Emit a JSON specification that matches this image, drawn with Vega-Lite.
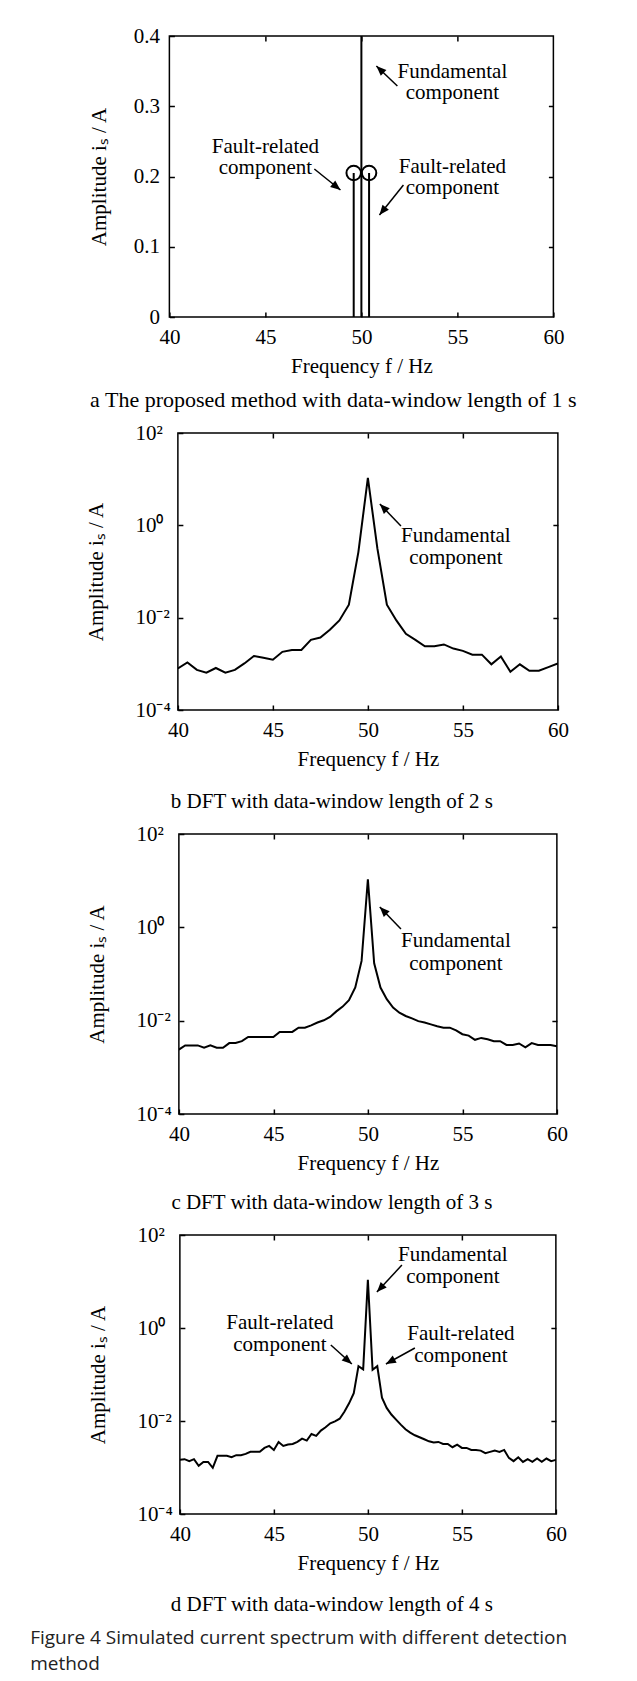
{
  "$schema": "https://vega.github.io/schema/vega-lite/v6.json",
  "background": "white",
  "padding": {"left": 30, "top": 24, "right": 5, "bottom": 6},
  "spacing": 9,
  "center": true,
  "datasets": {
    "stemsA": [
      {"f": 49.6, "amp": 0.205},
      {"f": 50.0, "amp": 10.7},
      {"f": 50.4, "amp": 0.205}
    ],
    "textA": [
      {"x": 54.74, "y": 0.349, "text": "Fundamental"},
      {"x": 54.74, "y": 0.319, "text": "component"},
      {"x": 45.0, "y": 0.242, "text": "Fault-related"},
      {"x": 45.0, "y": 0.212, "text": "component"},
      {"x": 54.74, "y": 0.2135, "text": "Fault-related"},
      {"x": 54.74, "y": 0.1836, "text": "component"}
    ],
    "arrowA": [
      {"x": 51.875, "y": 0.3288, "x2": 50.78, "y2": 0.3573, "angle": 313.6},
      {"x": 47.55, "y": 0.2107, "x2": 48.91, "y2": 0.1808, "angle": 128.9},
      {"x": 52.19, "y": 0.1879, "x2": 50.94, "y2": 0.1452, "angle": 218.7}
    ],
    "lineB": [
      {"f": 40.0, "amp": 0.000794}, {"f": 40.5, "amp": 0.00107}, {"f": 41.0, "amp": 0.000741},
      {"f": 41.5, "amp": 0.000646}, {"f": 42.0, "amp": 0.000813}, {"f": 42.5, "amp": 0.000646},
      {"f": 43.0, "amp": 0.000741}, {"f": 43.5, "amp": 0.00102}, {"f": 44.0, "amp": 0.00148},
      {"f": 44.5, "amp": 0.00135}, {"f": 45.0, "amp": 0.00123}, {"f": 45.5, "amp": 0.00182},
      {"f": 46.0, "amp": 0.0020}, {"f": 46.5, "amp": 0.0020}, {"f": 47.0, "amp": 0.00331},
      {"f": 47.5, "amp": 0.00372}, {"f": 48.0, "amp": 0.0055}, {"f": 48.5, "amp": 0.00871},
      {"f": 49.0, "amp": 0.0191}, {"f": 49.5, "amp": 0.263}, {"f": 50.0, "amp": 10.7},
      {"f": 50.5, "amp": 0.316}, {"f": 51.0, "amp": 0.0191}, {"f": 51.5, "amp": 0.00871},
      {"f": 52.0, "amp": 0.00447}, {"f": 52.5, "amp": 0.00331}, {"f": 53.0, "amp": 0.0024},
      {"f": 53.5, "amp": 0.0024}, {"f": 54.0, "amp": 0.00263}, {"f": 54.5, "amp": 0.00214},
      {"f": 55.0, "amp": 0.00191}, {"f": 55.5, "amp": 0.00158}, {"f": 56.0, "amp": 0.00158},
      {"f": 56.5, "amp": 0.000977}, {"f": 57.0, "amp": 0.00145}, {"f": 57.5, "amp": 0.000676},
      {"f": 58.0, "amp": 0.000977}, {"f": 58.5, "amp": 0.000708}, {"f": 59.0, "amp": 0.000708},
      {"f": 59.5, "amp": 0.000851}, {"f": 60.0, "amp": 0.00102}
    ],
    "textB": [
      {"x": 54.63, "y": 0.589, "text": "Fundamental"},
      {"x": 54.63, "y": 0.196, "text": "component"}
    ],
    "arrowB": [
      {"x": 51.74, "y": 0.968, "x2": 50.63, "y2": 2.9, "angle": 316}
    ],
    "lineC": [
      {"f": 40.0, "amp": 0.0024}, {"f": 40.333, "amp": 0.00295}, {"f": 40.667, "amp": 0.00295},
      {"f": 41.0, "amp": 0.00295}, {"f": 41.333, "amp": 0.00263}, {"f": 41.667, "amp": 0.00295},
      {"f": 42.0, "amp": 0.00263}, {"f": 42.333, "amp": 0.00263}, {"f": 42.667, "amp": 0.00331},
      {"f": 43.0, "amp": 0.00331}, {"f": 43.333, "amp": 0.00363}, {"f": 43.667, "amp": 0.00447},
      {"f": 44.0, "amp": 0.00447}, {"f": 44.333, "amp": 0.00447}, {"f": 44.667, "amp": 0.00447},
      {"f": 45.0, "amp": 0.00447}, {"f": 45.333, "amp": 0.00575}, {"f": 45.667, "amp": 0.00575},
      {"f": 46.0, "amp": 0.00575}, {"f": 46.333, "amp": 0.00708}, {"f": 46.667, "amp": 0.00708},
      {"f": 47.0, "amp": 0.00794}, {"f": 47.333, "amp": 0.00912}, {"f": 47.667, "amp": 0.0102},
      {"f": 48.0, "amp": 0.012}, {"f": 48.333, "amp": 0.0158}, {"f": 48.667, "amp": 0.02},
      {"f": 49.0, "amp": 0.0275}, {"f": 49.333, "amp": 0.0513}, {"f": 49.667, "amp": 0.191},
      {"f": 50.0, "amp": 10.7}, {"f": 50.333, "amp": 0.17}, {"f": 50.667, "amp": 0.0513},
      {"f": 51.0, "amp": 0.0288}, {"f": 51.333, "amp": 0.0191}, {"f": 51.667, "amp": 0.0148},
      {"f": 52.0, "amp": 0.0126}, {"f": 52.333, "amp": 0.0112}, {"f": 52.667, "amp": 0.00977},
      {"f": 53.0, "amp": 0.00912}, {"f": 53.333, "amp": 0.00832}, {"f": 53.667, "amp": 0.00759},
      {"f": 54.0, "amp": 0.00708}, {"f": 54.333, "amp": 0.00708}, {"f": 54.667, "amp": 0.00617},
      {"f": 55.0, "amp": 0.00513}, {"f": 55.333, "amp": 0.00479}, {"f": 55.667, "amp": 0.00389},
      {"f": 56.0, "amp": 0.00427}, {"f": 56.333, "amp": 0.00398}, {"f": 56.667, "amp": 0.00363},
      {"f": 57.0, "amp": 0.00363}, {"f": 57.333, "amp": 0.00302}, {"f": 57.667, "amp": 0.00302},
      {"f": 58.0, "amp": 0.00324}, {"f": 58.333, "amp": 0.00269}, {"f": 58.667, "amp": 0.00331},
      {"f": 59.0, "amp": 0.00302}, {"f": 59.333, "amp": 0.00302}, {"f": 59.667, "amp": 0.00302},
      {"f": 60.0, "amp": 0.00282}
    ],
    "textC": [
      {"x": 54.66, "y": 0.509, "text": "Fundamental"},
      {"x": 54.66, "y": 0.164, "text": "component"}
    ],
    "arrowC": [
      {"x": 51.75, "y": 0.921, "x2": 50.63, "y2": 2.73, "angle": 316}
    ],
    "lineD": [
      {"f": 40.0, "amp": 0.00146}, {"f": 40.25, "amp": 0.00151}, {"f": 40.5, "amp": 0.00137},
      {"f": 40.75, "amp": 0.00151}, {"f": 41.0, "amp": 0.00109}, {"f": 41.25, "amp": 0.00132},
      {"f": 41.5, "amp": 0.00132}, {"f": 41.75, "amp": 0.000984}, {"f": 42.0, "amp": 0.00178},
      {"f": 42.25, "amp": 0.00178}, {"f": 42.5, "amp": 0.00178}, {"f": 42.75, "amp": 0.00166},
      {"f": 43.0, "amp": 0.00184}, {"f": 43.25, "amp": 0.00184}, {"f": 43.5, "amp": 0.00196},
      {"f": 43.75, "amp": 0.00217}, {"f": 44.0, "amp": 0.00217}, {"f": 44.25, "amp": 0.00217},
      {"f": 44.5, "amp": 0.00264}, {"f": 44.75, "amp": 0.00291}, {"f": 45.0, "amp": 0.00239},
      {"f": 45.25, "amp": 0.00355}, {"f": 45.5, "amp": 0.00291}, {"f": 45.75, "amp": 0.00311},
      {"f": 46.0, "amp": 0.00321}, {"f": 46.25, "amp": 0.00355}, {"f": 46.5, "amp": 0.00418},
      {"f": 46.75, "amp": 0.00379}, {"f": 47.0, "amp": 0.00526}, {"f": 47.25, "amp": 0.00478},
      {"f": 47.5, "amp": 0.00621}, {"f": 47.75, "amp": 0.00731}, {"f": 48.0, "amp": 0.00891},
      {"f": 48.25, "amp": 0.00984}, {"f": 48.5, "amp": 0.0112}, {"f": 48.75, "amp": 0.0158},
      {"f": 49.0, "amp": 0.024}, {"f": 49.25, "amp": 0.0398}, {"f": 49.5, "amp": 0.151},
      {"f": 49.75, "amp": 0.129}, {"f": 50.0, "amp": 10.9}, {"f": 50.25, "amp": 0.126},
      {"f": 50.5, "amp": 0.151}, {"f": 50.75, "amp": 0.0316}, {"f": 51.0, "amp": 0.0191},
      {"f": 51.25, "amp": 0.0138}, {"f": 51.5, "amp": 0.0107}, {"f": 51.75, "amp": 0.00834},
      {"f": 52.0, "amp": 0.00662}, {"f": 52.25, "amp": 0.00562}, {"f": 52.5, "amp": 0.00493},
      {"f": 52.75, "amp": 0.00447}, {"f": 53.0, "amp": 0.00405}, {"f": 53.25, "amp": 0.00366},
      {"f": 53.5, "amp": 0.00344}, {"f": 53.75, "amp": 0.00355}, {"f": 54.0, "amp": 0.00321},
      {"f": 54.25, "amp": 0.00321}, {"f": 54.5, "amp": 0.00273}, {"f": 54.75, "amp": 0.00311},
      {"f": 55.0, "amp": 0.00264}, {"f": 55.25, "amp": 0.00264}, {"f": 55.5, "amp": 0.00239},
      {"f": 55.75, "amp": 0.00239}, {"f": 56.0, "amp": 0.00231}, {"f": 56.25, "amp": 0.00203},
      {"f": 56.5, "amp": 0.00217}, {"f": 56.75, "amp": 0.00231}, {"f": 57.0, "amp": 0.00217},
      {"f": 57.25, "amp": 0.00239}, {"f": 57.5, "amp": 0.00161}, {"f": 57.75, "amp": 0.00137},
      {"f": 58.0, "amp": 0.00166}, {"f": 58.25, "amp": 0.00132}, {"f": 58.5, "amp": 0.00151},
      {"f": 58.75, "amp": 0.00132}, {"f": 59.0, "amp": 0.00156}, {"f": 59.25, "amp": 0.00132},
      {"f": 59.5, "amp": 0.00156}, {"f": 59.75, "amp": 0.00137}, {"f": 60.0, "amp": 0.00146}
    ],
    "textD": [
      {"x": 54.52, "y": 37.2, "text": "Fundamental"},
      {"x": 54.52, "y": 12.5, "text": "component"},
      {"x": 45.32, "y": 1.28, "text": "Fault-related"},
      {"x": 45.32, "y": 0.431, "text": "component"},
      {"x": 54.95, "y": 0.743, "text": "Fault-related"},
      {"x": 54.95, "y": 0.25, "text": "component"}
    ],
    "arrowD": [
      {"x": 51.81, "y": 22.6, "x2": 50.48, "y2": 5.94, "angle": 222.8},
      {"x": 48.03, "y": 0.431, "x2": 49.15, "y2": 0.168, "angle": 130.6},
      {"x": 52.5, "y": 0.371, "x2": 50.96, "y2": 0.168, "angle": 241.1}
    ]
  },
  "title": {
    "text": ["Figure 4  Simulated current spectrum with different detection", "method"],
    "orient": "bottom",
    "anchor": "start",
    "frame": "bounds",
    "font": "Open Sans",
    "fontSize": 19,
    "fontWeight": "normal",
    "lineHeight": 26,
    "color": "#222222",
    "dx": -55,
    "offset": 13
  },
  "vconcat": [
    {
      "width": 384,
      "height": 281,
      "title": {"text": "a The proposed method with data-window length of 1 s", "orient": "bottom", "frame": "group", "anchor": "middle", "dx": -28, "offset": 14, "fontSize": 22},
      "resolve": {"axis": {"x": "independent", "y": "independent"}},
      "layer": [
        {
          "data": {"name": "stemsA"},
          "mark": {"type": "rule", "color": "black", "strokeWidth": 2, "clip": true},
          "encoding": {
            "x": {"field": "f", "type": "quantitative", "scale": {"domain": [40, 60], "nice": false, "zero": false},
                  "axis": {"orient": "bottom", "values": [40, 45, 50, 55, 60], "format": "d", "title": "Frequency f / Hz", "labelPadding": 14, "titlePadding": 8}},
            "y": {"field": "amp", "type": "quantitative", "scale": {"domain": [0, 0.4], "nice": false, "zero": false},
                  "axis": {"orient": "left", "values": [0, 0.1, 0.2, 0.3, 0.4], "labelExpr": "datum.value == 0 ? '0' : format(datum.value, '.1f')", "labelAlign": "right", "labelPadding": 15, "title": "Amplitude iₛ / A", "titlePadding": 24}},
            "y2": {"datum": 0}
          }
        },
        {
          "data": {"name": "stemsA"},
          "mark": {"type": "point", "shape": "circle", "filled": false, "size": 210, "strokeWidth": 2, "color": "black", "opacity": 1, "clip": true},
          "encoding": {
            "x": {"field": "f", "type": "quantitative", "scale": {"domain": [40, 60], "nice": false, "zero": false},
                  "axis": {"orient": "top", "values": [45, 50, 55], "labels": false, "title": null}},
            "y": {"field": "amp", "type": "quantitative", "scale": {"domain": [0, 0.4], "nice": false, "zero": false},
                  "axis": {"orient": "right", "values": [0.1, 0.2, 0.3], "labels": false, "title": null}}
          }
        },
        {
          "data": {"name": "textA"},
          "mark": {"type": "text", "font": "Liberation Serif", "fontSize": 21, "color": "black", "align": "center", "baseline": "middle"},
          "encoding": {
            "x": {"field": "x", "type": "quantitative", "scale": {"domain": [40, 60], "nice": false, "zero": false}, "axis": null},
            "y": {"field": "y", "type": "quantitative", "scale": {"domain": [0, 0.4], "nice": false, "zero": false}, "axis": null},
            "text": {"field": "text"}
          }
        },
        {
          "data": {"name": "arrowA"},
          "mark": {"type": "rule", "color": "black", "strokeWidth": 1.5},
          "encoding": {
            "x": {"field": "x", "type": "quantitative", "scale": {"domain": [40, 60], "nice": false, "zero": false}, "axis": null},
            "y": {"field": "y", "type": "quantitative", "scale": {"domain": [0, 0.4], "nice": false, "zero": false}, "axis": null},
            "x2": {"field": "x2"},
            "y2": {"field": "y2"}
          }
        },
        {
          "data": {"name": "arrowA"},
          "mark": {"type": "point", "shape": "M0,0L0.45,1.1L-0.45,1.1Z", "filled": true, "size": 330, "color": "black", "opacity": 1, "strokeWidth": 0},
          "encoding": {
            "x": {"field": "x2", "type": "quantitative", "scale": {"domain": [40, 60], "nice": false, "zero": false}, "axis": null},
            "y": {"field": "y2", "type": "quantitative", "scale": {"domain": [0, 0.4], "nice": false, "zero": false}, "axis": null},
            "angle": {"field": "angle", "type": "quantitative", "scale": null}
          }
        }
      ]
    },
    {
      "width": 380,
      "height": 277,
      "title": {"text": "b DFT with data-window length of 2 s", "orient": "bottom", "frame": "group", "anchor": "middle", "dx": -36, "offset": 22},
      "resolve": {"axis": {"x": "independent", "y": "independent"}},
      "layer": [
        {
          "data": {"name": "lineB"},
          "mark": {"type": "line", "color": "black", "strokeWidth": 2, "clip": true},
          "encoding": {
            "x": {"field": "f", "type": "quantitative", "scale": {"domain": [40, 60], "nice": false, "zero": false},
                  "axis": {"orient": "bottom", "values": [40, 45, 50, 55, 60], "format": "d", "title": "Frequency f / Hz", "labelPadding": 14, "titlePadding": 8}},
            "y": {"field": "amp", "type": "quantitative", "scale": {"type": "log", "domain": [0.0001, 100]},
                  "axis": {"orient": "left", "values": [0.0001, 0.01, 1, 100], "labelExpr": "datum.value > 10 ? '10²' : datum.value > 0.5 ? '10⁰' : datum.value > 0.005 ? '10⁻²' : '10⁻⁴'", "labelAlign": "left", "labelPadding": 48, "title": "Amplitude iₛ / A", "titlePadding": 28}}
          }
        },
        {
          "data": {"name": "lineB"},
          "mark": {"type": "line", "opacity": 0, "clip": true},
          "encoding": {
            "x": {"field": "f", "type": "quantitative", "scale": {"domain": [40, 60], "nice": false, "zero": false},
                  "axis": {"orient": "top", "values": [45, 50, 55], "labels": false, "title": null}},
            "y": {"field": "amp", "type": "quantitative", "scale": {"type": "log", "domain": [0.0001, 100]},
                  "axis": {"orient": "right", "values": [0.01, 1], "labels": false, "title": null}}
          }
        },
        {
          "data": {"name": "textB"},
          "mark": {"type": "text", "font": "Liberation Serif", "fontSize": 21, "color": "black", "align": "center", "baseline": "middle"},
          "encoding": {
            "x": {"field": "x", "type": "quantitative", "scale": {"domain": [40, 60], "nice": false, "zero": false}, "axis": null},
            "y": {"field": "y", "type": "quantitative", "scale": {"type": "log", "domain": [0.0001, 100]}, "axis": null},
            "text": {"field": "text"}
          }
        },
        {
          "data": {"name": "arrowB"},
          "mark": {"type": "rule", "color": "black", "strokeWidth": 1.5},
          "encoding": {
            "x": {"field": "x", "type": "quantitative", "scale": {"domain": [40, 60], "nice": false, "zero": false}, "axis": null},
            "y": {"field": "y", "type": "quantitative", "scale": {"type": "log", "domain": [0.0001, 100]}, "axis": null},
            "x2": {"field": "x2"},
            "y2": {"field": "y2"}
          }
        },
        {
          "data": {"name": "arrowB"},
          "mark": {"type": "point", "shape": "M0,0L0.45,1.1L-0.45,1.1Z", "filled": true, "size": 330, "color": "black", "opacity": 1, "strokeWidth": 0},
          "encoding": {
            "x": {"field": "x2", "type": "quantitative", "scale": {"domain": [40, 60], "nice": false, "zero": false}, "axis": null},
            "y": {"field": "y2", "type": "quantitative", "scale": {"type": "log", "domain": [0.0001, 100]}, "axis": null},
            "angle": {"field": "angle", "type": "quantitative", "scale": null}
          }
        }
      ]
    },
    {
      "width": 378,
      "height": 280,
      "title": {"text": "c DFT with data-window length of 3 s", "orient": "bottom", "frame": "group", "anchor": "middle", "dx": -36, "offset": 19},
      "resolve": {"axis": {"x": "independent", "y": "independent"}},
      "layer": [
        {
          "data": {"name": "lineC"},
          "mark": {"type": "line", "color": "black", "strokeWidth": 2, "clip": true},
          "encoding": {
            "x": {"field": "f", "type": "quantitative", "scale": {"domain": [40, 60], "nice": false, "zero": false},
                  "axis": {"orient": "bottom", "values": [40, 45, 50, 55, 60], "format": "d", "title": "Frequency f / Hz", "labelPadding": 14, "titlePadding": 8}},
            "y": {"field": "amp", "type": "quantitative", "scale": {"type": "log", "domain": [0.0001, 100]},
                  "axis": {"orient": "left", "values": [0.0001, 0.01, 1, 100], "labelExpr": "datum.value > 10 ? '10²' : datum.value > 0.5 ? '10⁰' : datum.value > 0.005 ? '10⁻²' : '10⁻⁴'", "labelAlign": "left", "labelPadding": 48, "title": "Amplitude iₛ / A", "titlePadding": 28}}
          }
        },
        {
          "data": {"name": "lineC"},
          "mark": {"type": "line", "opacity": 0, "clip": true},
          "encoding": {
            "x": {"field": "f", "type": "quantitative", "scale": {"domain": [40, 60], "nice": false, "zero": false},
                  "axis": {"orient": "top", "values": [45, 50, 55], "labels": false, "title": null}},
            "y": {"field": "amp", "type": "quantitative", "scale": {"type": "log", "domain": [0.0001, 100]},
                  "axis": {"orient": "right", "values": [0.01, 1], "labels": false, "title": null}}
          }
        },
        {
          "data": {"name": "textC"},
          "mark": {"type": "text", "font": "Liberation Serif", "fontSize": 21, "color": "black", "align": "center", "baseline": "middle"},
          "encoding": {
            "x": {"field": "x", "type": "quantitative", "scale": {"domain": [40, 60], "nice": false, "zero": false}, "axis": null},
            "y": {"field": "y", "type": "quantitative", "scale": {"type": "log", "domain": [0.0001, 100]}, "axis": null},
            "text": {"field": "text"}
          }
        },
        {
          "data": {"name": "arrowC"},
          "mark": {"type": "rule", "color": "black", "strokeWidth": 1.5},
          "encoding": {
            "x": {"field": "x", "type": "quantitative", "scale": {"domain": [40, 60], "nice": false, "zero": false}, "axis": null},
            "y": {"field": "y", "type": "quantitative", "scale": {"type": "log", "domain": [0.0001, 100]}, "axis": null},
            "x2": {"field": "x2"},
            "y2": {"field": "y2"}
          }
        },
        {
          "data": {"name": "arrowC"},
          "mark": {"type": "point", "shape": "M0,0L0.45,1.1L-0.45,1.1Z", "filled": true, "size": 330, "color": "black", "opacity": 1, "strokeWidth": 0},
          "encoding": {
            "x": {"field": "x2", "type": "quantitative", "scale": {"domain": [40, 60], "nice": false, "zero": false}, "axis": null},
            "y": {"field": "y2", "type": "quantitative", "scale": {"type": "log", "domain": [0.0001, 100]}, "axis": null},
            "angle": {"field": "angle", "type": "quantitative", "scale": null}
          }
        }
      ]
    },
    {
      "width": 376,
      "height": 279,
      "title": {"text": "d DFT with data-window length of 4 s", "orient": "bottom", "frame": "group", "anchor": "middle", "dx": -36, "offset": 21},
      "resolve": {"axis": {"x": "independent", "y": "independent"}},
      "layer": [
        {
          "data": {"name": "lineD"},
          "mark": {"type": "line", "color": "black", "strokeWidth": 2, "clip": true},
          "encoding": {
            "x": {"field": "f", "type": "quantitative", "scale": {"domain": [40, 60], "nice": false, "zero": false},
                  "axis": {"orient": "bottom", "values": [40, 45, 50, 55, 60], "format": "d", "title": "Frequency f / Hz", "labelPadding": 14, "titlePadding": 8}},
            "y": {"field": "amp", "type": "quantitative", "scale": {"type": "log", "domain": [0.0001, 100]},
                  "axis": {"orient": "left", "values": [0.0001, 0.01, 1, 100], "labelExpr": "datum.value > 10 ? '10²' : datum.value > 0.5 ? '10⁰' : datum.value > 0.005 ? '10⁻²' : '10⁻⁴'", "labelAlign": "left", "labelPadding": 48, "title": "Amplitude iₛ / A", "titlePadding": 28}}
          }
        },
        {
          "data": {"name": "lineD"},
          "mark": {"type": "line", "opacity": 0, "clip": true},
          "encoding": {
            "x": {"field": "f", "type": "quantitative", "scale": {"domain": [40, 60], "nice": false, "zero": false},
                  "axis": {"orient": "top", "values": [45, 50, 55], "labels": false, "title": null}},
            "y": {"field": "amp", "type": "quantitative", "scale": {"type": "log", "domain": [0.0001, 100]},
                  "axis": {"orient": "right", "values": [0.01, 1], "labels": false, "title": null}}
          }
        },
        {
          "data": {"name": "textD"},
          "mark": {"type": "text", "font": "Liberation Serif", "fontSize": 21, "color": "black", "align": "center", "baseline": "middle"},
          "encoding": {
            "x": {"field": "x", "type": "quantitative", "scale": {"domain": [40, 60], "nice": false, "zero": false}, "axis": null},
            "y": {"field": "y", "type": "quantitative", "scale": {"type": "log", "domain": [0.0001, 100]}, "axis": null},
            "text": {"field": "text"}
          }
        },
        {
          "data": {"name": "arrowD"},
          "mark": {"type": "rule", "color": "black", "strokeWidth": 1.5},
          "encoding": {
            "x": {"field": "x", "type": "quantitative", "scale": {"domain": [40, 60], "nice": false, "zero": false}, "axis": null},
            "y": {"field": "y", "type": "quantitative", "scale": {"type": "log", "domain": [0.0001, 100]}, "axis": null},
            "x2": {"field": "x2"},
            "y2": {"field": "y2"}
          }
        },
        {
          "data": {"name": "arrowD"},
          "mark": {"type": "point", "shape": "M0,0L0.45,1.1L-0.45,1.1Z", "filled": true, "size": 330, "color": "black", "opacity": 1, "strokeWidth": 0},
          "encoding": {
            "x": {"field": "x2", "type": "quantitative", "scale": {"domain": [40, 60], "nice": false, "zero": false}, "axis": null},
            "y": {"field": "y2", "type": "quantitative", "scale": {"type": "log", "domain": [0.0001, 100]}, "axis": null},
            "angle": {"field": "angle", "type": "quantitative", "scale": null}
          }
        }
      ]
    }
  ],
  "config": {
    "view": {"stroke": "black", "strokeWidth": 1.5},
    "axis": {
      "domain": false,
      "grid": false,
      "ticks": true,
      "tickSize": -5,
      "tickColor": "black",
      "tickWidth": 1.5,
      "labelFont": "Liberation Serif",
      "labelFontSize": 21,
      "labelColor": "black",
      "labelOverlap": false,
      "labelFlush": false,
      "titleFont": "Liberation Serif",
      "titleFontSize": 21,
      "titleFontWeight": "normal",
      "titleColor": "black"
    },
    "title": {"font": "Liberation Serif", "fontSize": 21, "fontWeight": "normal", "color": "black"}
  }
}
